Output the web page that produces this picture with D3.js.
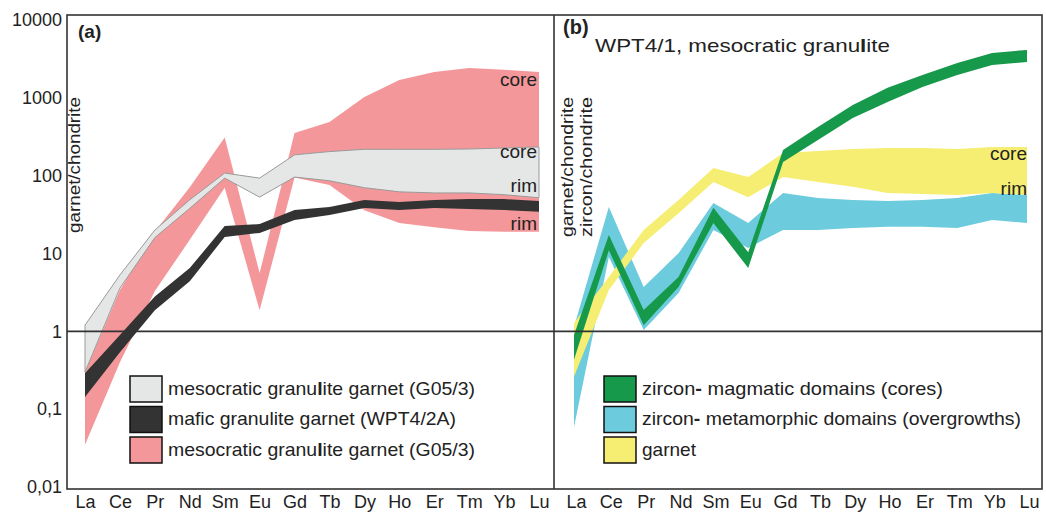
<!DOCTYPE html>
<html><head><meta charset="utf-8">
<script src="https://cdn.jsdelivr.net/npm/d3@7"></script>
<style>
body{margin:0;background:#fff}
svg{display:block}
text{font-family:"Liberation Sans",Arial,Helvetica,sans-serif;fill:#222}
</style></head>
<body><svg id="c" width="1046" height="516"></svg>
<script>
// ---------- data ----------
const elements = ["La","Ce","Pr","Nd","Sm","Eu","Gd","Tb","Dy","Ho","Er","Tm","Yb","Lu"];
const yTicks = [0.01, 0.1, 1, 10, 100, 1000, 10000];
const yTickLabels = ["0,01", "0,1", "1", "10", "100", "1000", "10000"];

// panel (a)
const g053GreyHigh = [1.2, 5.3, 20, 49, 108, 93, 185, 204, 218, 218, 218, 220, 227, 234];
const g053GreyLow  = [0.3, 3.6, 16, 38, 93, 53, 96, 86, 70, 62, 60, 60, 57, 52];
const wpt42aHigh   = [0.29, 0.90, 2.8, 6.5, 22.5, 23.9, 36.3, 39.7, 48.7, 45.9, 48.7, 50, 50, 47.4];
const wpt42aLow    = [0.143, 0.54, 1.87, 4.4, 16.3, 18.4, 27, 31.2, 38.5, 36.3, 38.5, 37.3, 36.3, 34.3];
const g053PinkHigh = [0.3, 3.4, 19, 71, 310, 5.6, 354, 490, 1026, 1700, 2150, 2420, 2290, 2150];
const g053PinkLow  = [0.035, 0.4, 3.3, 15, 70, 1.87, 95, 76, 36, 24.7, 21.8, 19.5, 19, 19];

// panel (b)
const zrnCoreHigh = [0.9, 17.3, 1.88, 5.0, 38.6, 10.4, 214, 423, 811, 1343, 1970, 2810, 3780, 4130];
const zrnCoreLow  = [0.43, 11, 1.2, 3.7, 24.7, 6.5, 150, 288, 552, 887, 1380, 1970, 2650, 2890];
const zrnRimHigh  = [1.14, 39.6, 3.7, 10.1, 44.6, 24.7, 60, 51.7, 48.8, 47.3, 48.8, 51.7, 60, 56.5];
const zrnRimLow   = [0.059, 9, 1.04, 3.1, 20, 11.8, 20, 20, 21.3, 22, 22, 21.3, 27, 24.7];
const grtHigh     = [1.28, 5.0, 20, 48.8, 125, 96, 195, 208, 220, 227, 227, 220, 234, 234];
const grtLow      = [0.26, 3.4, 13.6, 33, 83, 53, 96, 83, 72, 60, 58, 56.5, 60, 56.5];

// text segments: [text, bold?]
const legendA = [
  [["mesocratic granu", 0], ["l", 1], ["ite garnet (G05/3)", 0]],
  [["mafic granulite garnet (WPT4/2A)", 0]],
  [["mesocratic granu", 0], ["l", 1], ["ite garnet (G05/3)", 0]]
];
const legendB = [
  [["zircon", 0], ["-", 1], [" magmatic domains (cores)", 0]],
  [["zircon", 0], ["-", 1], [" metamorphic domains (overgrowths)", 0]],
  [["garnet", 0]]
];
const titleB = [["WPT4/1, mesocratic granu", 0], ["l", 1], ["ite", 0]];

// ---------- styles ----------
const C = {grey:"#e5e6e6", greyStroke:"#9a9a9a", black:"#333333", pink:"#f4979a",
           green:"#16994a", cyan:"#6ccbdc", yellow:"#f6ee72", frame:"#333"};

const svg = d3.select("#c");
const y = d3.scaleLog().domain([0.01, 10000]).range([487, 20]);
const xA = d3.scalePoint().domain(elements).range([85, 539]);
const xB = d3.scalePoint().domain(elements).range([574, 1027]);

function band(x, hi, lo, fill, stroke) {
  const data = elements.map((e, i) => ({e, hi: hi[i], lo: lo[i]}));
  const area = d3.area().x(d => x(d.e)).y0(d => y(d.lo)).y1(d => y(d.hi));
  svg.append("path").datum(data).attr("d", area)
    .attr("fill", fill).attr("stroke", stroke || "none").attr("stroke-width", stroke ? 1 : 0)
    .attr("stroke-linejoin", "round");
}

// panel (a)
band(xA, g053PinkHigh, g053PinkLow, C.pink);
band(xA, g053GreyHigh, g053GreyLow, C.grey, C.greyStroke);
band(xA, wpt42aHigh, wpt42aLow, C.black);
// panel (b)
band(xB, zrnRimHigh, zrnRimLow, C.cyan);
band(xB, grtHigh, grtLow, C.yellow);
band(xB, zrnCoreHigh, zrnCoreLow, C.green);

// frame & reference lines
svg.append("rect").attr("x", 67).attr("y", 15).attr("width", 975).attr("height", 474)
  .attr("fill", "none").attr("stroke", C.frame).attr("stroke-width", 1.6);
svg.append("line").attr("x1", 554).attr("x2", 554).attr("y1", 15).attr("y2", 489)
  .attr("stroke", C.frame).attr("stroke-width", 1.6);
svg.append("line").attr("x1", 67).attr("x2", 1042).attr("y1", y(1)).attr("y2", y(1))
  .attr("stroke", C.frame).attr("stroke-width", 1.6);

// axes
const yAx = svg.append("g").attr("transform", "translate(67,0)")
  .call(d3.axisLeft(y).tickValues(yTicks).tickFormat((d, i) => yTickLabels[i]).tickSize(0).tickPadding(5));
const xAxA = svg.append("g").attr("transform", "translate(0,489)")
  .call(d3.axisBottom(xA).tickSize(0).tickPadding(6));
const xAxB = svg.append("g").attr("transform", "translate(2,489)")
  .call(d3.axisBottom(xB).tickSize(0).tickPadding(6));
[yAx, xAxA, xAxB].forEach(g => {
  g.select(".domain").remove();
  g.attr("font-family", null).attr("font-size", null);
  g.selectAll("text").attr("font-size", 18).attr("fill", "#222");
});

// axis titles
svg.append("text").attr("transform", "translate(80,233) rotate(-90)")
  .attr("font-size", 16).attr("textLength", 136).attr("lengthAdjust", "spacingAndGlyphs")
  .text("garnet/chondrite");
svg.append("text").attr("transform", "translate(573,237) rotate(-90)")
  .attr("font-size", 16).attr("textLength", 140).attr("lengthAdjust", "spacingAndGlyphs")
  .text("garnet/chondrite");
svg.append("text").attr("transform", "translate(592,237) rotate(-90)")
  .attr("font-size", 16).attr("textLength", 140).attr("lengthAdjust", "spacingAndGlyphs")
  .text("zircon/chondrite");

function richText(x0, y0, size, len, segs) {
  const t = svg.append("text").attr("x", x0).attr("y", y0).attr("font-size", size)
    .attr("textLength", len).attr("lengthAdjust", "spacingAndGlyphs");
  segs.forEach(([s, b]) => t.append("tspan").attr("font-weight", b ? 900 : null).text(s));
  return t;
}

// panel letters and title
svg.append("text").attr("x", 78).attr("y", 38).attr("font-size", 19).attr("font-weight", "bold").text("(a)");
svg.append("text").attr("x", 563).attr("y", 34).attr("font-size", 20).attr("font-weight", "bold").text("(b)");
richText(595, 52, 19, 295, titleB);

// core / rim labels
const labA = [["core", 86], ["core", 158], ["rim", 192], ["rim", 230]];
labA.forEach(([t, yy]) => svg.append("text").attr("x", 537).attr("y", yy).attr("text-anchor", "end").attr("font-size", 19).text(t));
const labB = [["core", 160], ["rim", 195]];
labB.forEach(([t, yy]) => svg.append("text").attr("x", 1027).attr("y", yy).attr("text-anchor", "end").attr("font-size", 19).text(t));

// legends
function legend(x0, labels, fills, widths) {
  labels.forEach((segs, i) => {
    const yy = 376 + i * 30.5;
    svg.append("rect").attr("x", x0).attr("y", yy).attr("width", 32).attr("height", 26)
      .attr("fill", fills[i]).attr("stroke", "#111").attr("stroke-width", 1.5);
    richText(x0 + 38, yy + 18.5, 19, widths[i], segs);
  });
}
legend(130, legendA, [C.grey, C.black, C.pink], [307, 288, 307]);
legend(604, legendB, [C.green, C.cyan, C.yellow], [301, 379, 54]);
</script>
</body></html>
